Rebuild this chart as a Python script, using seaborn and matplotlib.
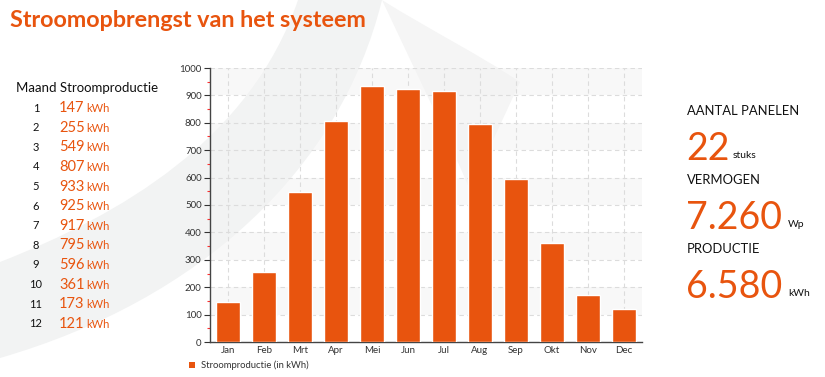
import matplotlib
matplotlib.use("Agg")
import matplotlib.pyplot as plt
import seaborn as sns
import pandas as pd
import numpy as np
from matplotlib.path import Path
from matplotlib.patches import PathPatch, Rectangle

# ---- data ----
months = ["Jan", "Feb", "Mrt", "Apr", "Mei", "Jun", "Jul", "Aug", "Sep", "Okt", "Nov", "Dec"]
production = [147, 255, 549, 807, 933, 925, 917, 795, 596, 361, 173, 121]
month_numbers = list(range(1, 13))
yticks = [0, 100, 200, 300, 400, 500, 600, 700, 800, 900, 1000]
title = "Stroomopbrengst van het systeem"
legend_label = "Stroomproductie (in kWh)"
stats_labels = ["AANTAL PANELEN", "VERMOGEN", "PRODUCTIE"]
stats_values = ["22", "7.260", "6.580"]
stats_units = ["stuks", "Wp", "kWh"]

ORANGE = "#E8540E"
W, H = 825, 377

sns.set_theme(style="white")
plt.rcParams['font.family'] = ['Lato', 'DejaVu Sans']

fig = plt.figure(figsize=(W / 100, H / 100), dpi=100)
fig.patch.set_facecolor("white")

def px(x, y):
    return (x / W, 1 - y / H)

# ---- background watermark swoosh ----
def swoosh(points_outer, points_inner, color, z=-10):
    verts = [px(*p) for p in points_outer] + [px(*p) for p in points_inner] + [px(*points_outer[0])]
    codes = [Path.MOVETO] + [Path.CURVE4] * (len(points_outer) - 1) + \
            [Path.LINETO] + [Path.CURVE4] * (len(points_inner) - 1) + [Path.CLOSEPOLY]
    patch = PathPatch(Path(verts, codes), facecolor=color, edgecolor="none",
                      transform=fig.transFigure, zorder=z)
    fig.patches.append(patch)

swoosh([(0, 262), (120, 215), (250, 140), (298, 0)],
       [(382, 0), (340, 170), (200, 300), (0, 358)], "#f2f3f3")
swoosh([(382, 0), (430, 30), (480, 55), (520, 82)],
       [(470, 190), (440, 120), (410, 60), (382, 0)], "#f5f5f5")

# ---- chart ----
left, right, top, bottom = 210, 642, 68, 342
ax = fig.add_axes([left / W, 1 - bottom / H, (right - left) / W, (bottom - top) / H])
ax.patch.set_alpha(0)

df = pd.DataFrame({"Maand": months, "kWh": production})
sns.barplot(data=df, x="Maand", y="kWh", color=ORANGE, saturation=1, width=0.67,
            ax=ax, zorder=3)

ax.set_xlim(-0.5, len(months) - 0.5)
ax.set_ylim(0, 1000)
for lo in range(100, 1000, 200):
    ax.axhspan(lo, lo + 100, facecolor="#f3f3f3", alpha=0.5, zorder=0, lw=0)
for y in yticks[1:]:
    ax.axhline(y, color="#dcdcdc", lw=0.8, ls=(0, (4, 3)), zorder=1)
for i in range(len(months)):
    ax.axvline(i, color="#dcdcdc", lw=0.8, ls=(0, (4, 3)), zorder=1)

ax.set_yticks(yticks)
ax.set_yticklabels([str(v) for v in yticks], fontsize=7, color="#333333")
ax.set_yticks(np.arange(50, 1000, 100), minor=True)
ax.tick_params(axis="y", which="major", left=True, length=4, width=0.8, color="#333333", pad=2, direction="out")
ax.tick_params(axis="y", which="minor", left=True, length=2.5, width=0.8, color="#ff3030", direction="out")
ax.tick_params(axis="x", bottom=False, length=0, labelsize=7, labelcolor="#333333", pad=3)
ax.set_xlabel("")
ax.set_ylabel("")
for s in ["top", "right"]:
    ax.spines[s].set_visible(False)
for s in ["left", "bottom"]:
    ax.spines[s].set_color("#444444")
    ax.spines[s].set_linewidth(1.0)

# legend
fig.patches.append(Rectangle(px(189, 368), 6 / W, 6 / H, transform=fig.transFigure,
                             facecolor=ORANGE, edgecolor="none"))
fig.text(*px(201, 365), legend_label, fontsize=6.8, color="#333333", va="center", ha="left")

# ---- title ----
fig.text(*px(10, 27), title, fontsize=16.8, fontweight="bold", color=ORANGE, va="baseline", ha="left")

# ---- table ----
fig.text(*px(16, 88), "Maand Stroomproductie", fontsize=9.5, color="#111111", va="center", ha="left")
row0, step = 107.7, 19.6
for i, (n, v) in enumerate(zip(month_numbers, production)):
    y = row0 + i * step
    fig.text(*px(36, y + 4), str(n), fontsize=8, color="#111111", va="baseline", ha="center")
    fig.text(*px(59, y + 4.5), str(v), fontsize=10.5, color=ORANGE, va="baseline", ha="left")
    fig.text(*px(86, y + 4.5), "kWh", fontsize=8, color=ORANGE, va="baseline", ha="left")

# ---- right stats ----
label_y = [115, 184, 253]
value_y = [160, 229, 298]
unit_x = [733, 788, 788]
for lab, val, unit, ly, vy, ux in zip(stats_labels, stats_values, stats_units, label_y, value_y, unit_x):
    fig.text(*px(687, ly), lab, fontsize=9.4, color="#111111", va="baseline", ha="left")
    fig.text(*px(686, vy), val, fontsize=27, color=ORANGE, va="baseline", ha="left")
    fig.text(*px(ux, vy - 2), unit, fontsize=7.5, color="#111111", va="baseline", ha="left")

fig.savefig("out.png", dpi=100, facecolor="white")
